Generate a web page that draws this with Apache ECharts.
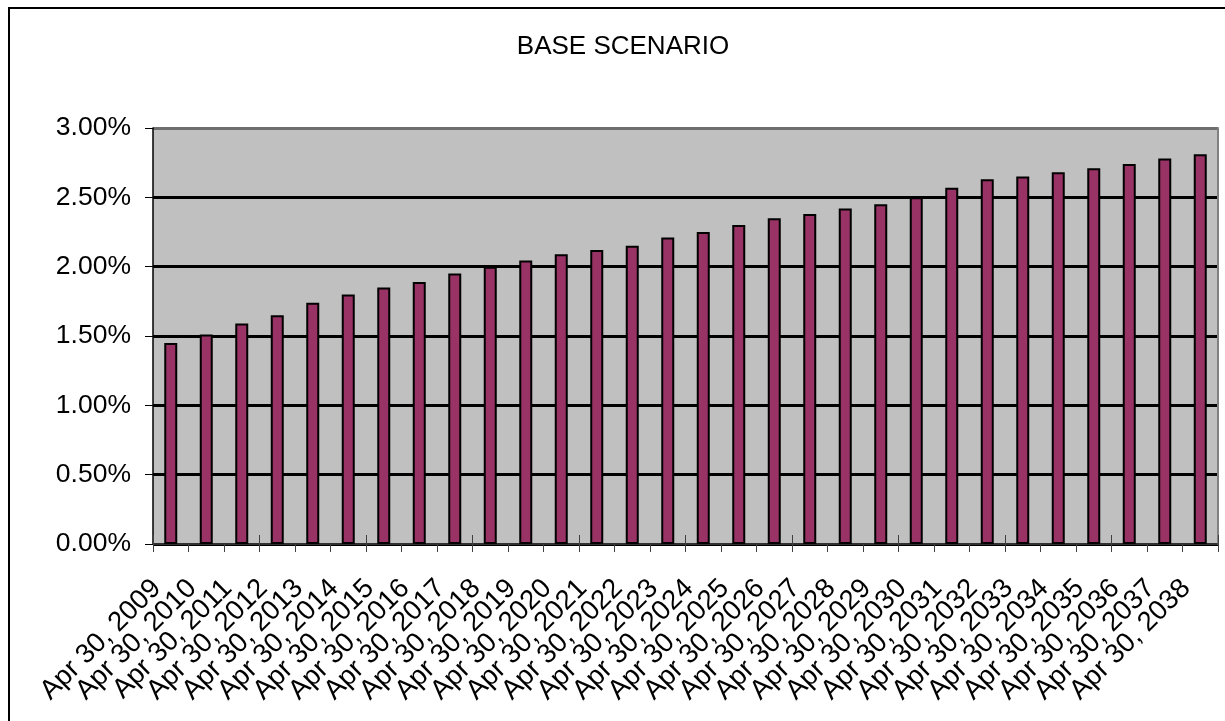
<!DOCTYPE html>
<html>
<head>
<meta charset="utf-8">
<title>BASE SCENARIO</title>
<script src="https://cdn.jsdelivr.net/npm/echarts@6/dist/echarts.min.js"></script>
<style>
  html, body { margin: 0; padding: 0; background: #ffffff; }
  #chart { width: 1225px; height: 721px; }
</style>
</head>
<body>
<div id="chart"></div>
<script>
// Yearly observation dates (category axis)
const categories = [
  'Apr 30, 2009', 'Apr 30, 2010', 'Apr 30, 2011', 'Apr 30, 2012', 'Apr 30, 2013',
  'Apr 30, 2014', 'Apr 30, 2015', 'Apr 30, 2016', 'Apr 30, 2017', 'Apr 30, 2018',
  'Apr 30, 2019', 'Apr 30, 2020', 'Apr 30, 2021', 'Apr 30, 2022', 'Apr 30, 2023',
  'Apr 30, 2024', 'Apr 30, 2025', 'Apr 30, 2026', 'Apr 30, 2027', 'Apr 30, 2028',
  'Apr 30, 2029', 'Apr 30, 2030', 'Apr 30, 2031', 'Apr 30, 2032', 'Apr 30, 2033',
  'Apr 30, 2034', 'Apr 30, 2035', 'Apr 30, 2036', 'Apr 30, 2037', 'Apr 30, 2038'
];

// Base scenario rate, in percent
const baseRate = [
  1.45, 1.51, 1.59, 1.65, 1.74, 1.80, 1.85, 1.89, 1.95, 2.00,
  2.045, 2.09, 2.12, 2.15, 2.21, 2.25, 2.30, 2.35, 2.38, 2.42,
  2.45, 2.50, 2.57, 2.63, 2.65, 2.68, 2.71, 2.74, 2.78, 2.81
];

// Value axis range and step, in percent
const yMin = 0;
const yMax = 3;
const yStep = 0.5;

const chartTitle = 'BASE SCENARIO';
const FONT = "'Liberation Sans', Arial, sans-serif";

const chart = echarts.init(document.getElementById('chart'), null, { renderer: 'canvas' });

const option = {
  backgroundColor: '#ffffff',
  animation: false,
  graphic: [
    {
      type: 'rect',
      silent: true,
      shape: { x: 9, y: 8, width: 1240, height: 740 },
      style: { fill: 'none', stroke: '#000000', lineWidth: 2 },
      z: 100
    },
    {
      type: 'text',
      silent: true,
      x: 623,
      y: 47,
      style: {
        text: chartTitle,
        fill: '#000000',
        font: '26px ' + FONT,
        textAlign: 'center',
        textVerticalAlign: 'middle'
      }
    }
  ],
  grid: {
    left: 153,
    right: 7,
    top: 128,
    bottom: 177,
    show: true,
    backgroundColor: '#c0c0c0',
    borderWidth: 0
  },
  xAxis: [
    {
      type: 'category',
      position: 'bottom',
      data: categories,
      boundaryGap: true,
      axisLine: { show: true, lineStyle: { color: '#404040', width: 1.5 } },
      axisTick: { show: true, inside: false, length: 8, lineStyle: { color: '#404040', width: 1 } },
      axisLabel: {
        interval: 0,
        rotate: 45,
        margin: 26,
        padding: [0, 20, 0, 0],
        color: '#000000',
        fontFamily: FONT,
        fontSize: 27.5
      },
      splitLine: { show: false }
    },
    {
      // inner half of the crossing tick marks
      type: 'category',
      position: 'bottom',
      data: categories,
      boundaryGap: true,
      axisLine: { show: false },
      axisTick: { show: true, inside: true, length: 9, lineStyle: { color: '#404040', width: 1 } },
      axisLabel: { show: false },
      splitLine: { show: false }
    }
  ],
  yAxis: [
    {
      type: 'value',
      position: 'left',
      min: yMin,
      max: yMax,
      interval: yStep,
      axisLine: { show: true, lineStyle: { color: '#000000', width: 1.5 } },
      axisTick: { show: true, inside: false, length: 8, lineStyle: { color: '#000000', width: 1 } },
      axisLabel: {
        margin: 22,
        color: '#000000',
        fontFamily: FONT,
        fontSize: 26.5,
        formatter: function (v) { return v.toFixed(2) + '%'; }
      },
      splitLine: {
        show: true,
        lineStyle: {
          color: ['#000000', '#000000', '#000000', '#000000', '#000000', '#000000', '#6e6e6e'],
          width: 3
        }
      }
    },
    {
      // plot-area edge on the right
      type: 'value',
      position: 'right',
      min: yMin,
      max: yMax,
      interval: yStep,
      axisLine: { show: true, lineStyle: { color: '#808080', width: 2 } },
      axisTick: { show: false },
      axisLabel: { show: false },
      splitLine: { show: false }
    }
  ],
  series: [
    {
      type: 'bar',
      name: chartTitle,
      xAxisIndex: 0,
      yAxisIndex: 0,
      data: baseRate,
      barWidth: 13,
      itemStyle: {
        color: '#993366',
        borderColor: '#000000',
        borderWidth: 2
      },
      emphasis: { disabled: true }
    }
  ]
};

chart.setOption(option);
</script>
</body>
</html>
